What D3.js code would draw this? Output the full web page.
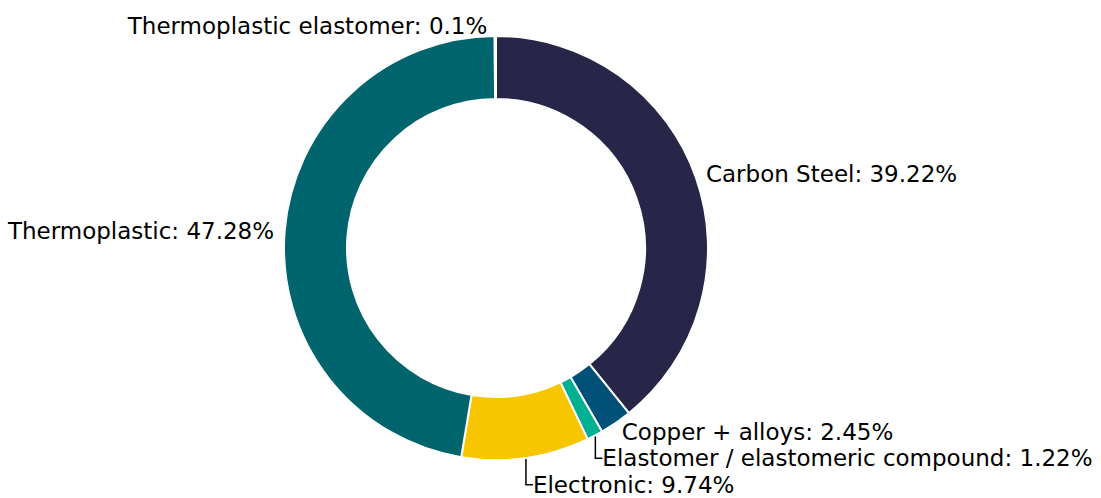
<!DOCTYPE html>
<html>
<head>
<meta charset="utf-8">
<script src="https://cdn.jsdelivr.net/npm/d3@7"></script>
<style>
  body { margin: 0; background: #fff; }
  text { font-family: "DejaVu Sans", sans-serif; font-size: 23px; fill: #000; }
</style>
</head>
<body>
<svg id="chart"></svg>
<script>
var materials = ["Carbon Steel", "Copper + alloys", "Elastomer / elastomeric compound",
                 "Electronic", "Thermoplastic", "Thermoplastic elastomer"];
var shares = [39.22, 2.45, 1.22, 9.74, 47.28, 0.1];
var colours = ["#272649", "#005078", "#00b092", "#f7c600", "#00646c", "#7a9fbf"];

var width = 1101, height = 498;
var cx = 496, cy = 248;
var outerR = 212, innerR = 149;
var labelR = outerR * 1.05;
var lineGap = 26.5;

var svg = d3.select("#chart")
    .attr("width", width)
    .attr("height", height);

var g = svg.append("g")
    .attr("transform", "translate(" + cx + "," + cy + ")");

var df = materials.map(function(m, i) {
    return { name: m, value: shares[i], colour: colours[i] };
});

var pie = d3.pie()
    .sort(null)
    .value(function(d) { return d.value; });

var arc = d3.arc()
    .innerRadius(innerR)
    .outerRadius(outerR);

var arcs = pie(df);

g.selectAll(".slice")
    .data(arcs)
    .enter()
    .append("path")
    .attr("class", "slice")
    .attr("d", arc)
    .attr("fill", function(d) { return d.data.colour; })
    .attr("stroke", "#fff")
    .attr("stroke-width", 2);

// label anchors on the mid angle, then push overlapping ones down
var labels = arcs.map(function(d) {
    var a = (d.startAngle + d.endAngle) / 2;
    var x = labelR * Math.sin(a), y = -labelR * Math.cos(a);
    return { d: d, a: a, x0: x, y0: y, y: y, side: x >= 0 ? 1 : -1 };
});

[1, -1].forEach(function(side) {
    var list = labels.filter(function(l) { return l.side === side; })
        .sort(function(a, b) { return a.y0 - b.y0; });
    for (var i = 1; i < list.length; i++) {
        if (list[i].y - list[i - 1].y < lineGap) list[i].y = list[i - 1].y + lineGap;
    }
});

labels.forEach(function(l) {
    var moved = Math.abs(l.y - l.y0) > 1;
    var tx = l.x0;
    if (moved) {
        // leader from the ring edge down to the shifted label
        var lx = (outerR + 1) * Math.sin(l.a), ly = -(outerR + 1) * Math.cos(l.a);
        tx = lx + 7;
        g.append("path")
            .attr("d", "M" + lx + "," + ly + "V" + l.y + "H" + tx)
            .attr("fill", "none")
            .attr("stroke", "#000")
            .attr("stroke-width", 1.5);
    }
    if (Math.abs(l.x0) < 20) tx += 8 * l.side;
    g.append("text")
        .attr("x", tx)
        .attr("y", l.y)
        .attr("dy", "0.36em")
        .style("text-anchor", l.side > 0 ? "start" : "end")
        .text(l.d.data.name + ": " + l.d.data.value + "%");
});
</script>
</body>
</html>
